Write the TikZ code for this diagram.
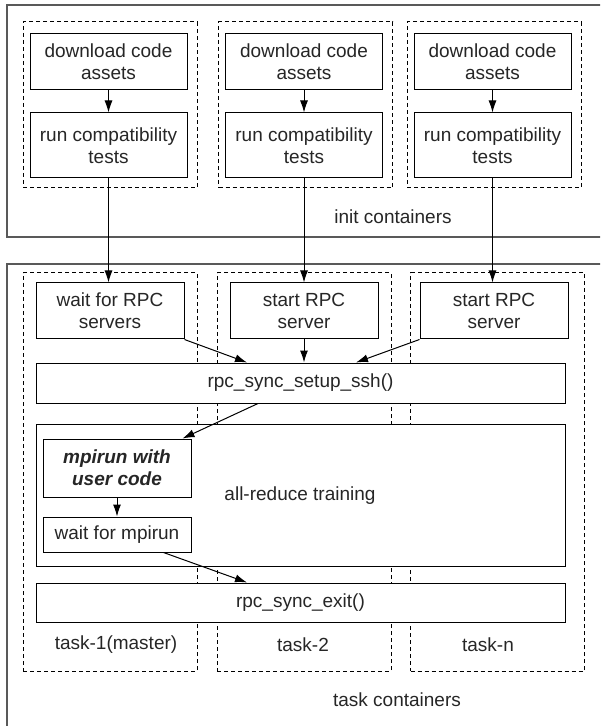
\documentclass[tikz,border=0pt]{standalone}
\usepackage{fontspec}
\setmainfont{Liberation Sans}
\usetikzlibrary{arrows.meta}

\begin{document}
\begin{tikzpicture}[x=0.5pt, y=-0.5pt, line width=0.5pt,
  every node/.style={font=\fontsize{9.5}{11}\selectfont, text=black!85},
  box/.style={draw, fill=white, align=center, inner sep=0pt, minimum width=78.5pt},
  col/.style={draw, dash pattern=on 2pt off 1.5pt, inner sep=0pt, minimum width=87pt},
  outer/.style={draw=black!65, line width=0.75pt},
  arr/.style={-{Latex[length=6pt,width=4pt]}}]
\useasboundingbox (0,0) rectangle (600,726);
\clip (0,0) rectangle (600,726);

\draw[outer] (7,5) rectangle (620,237);
\draw[outer] (7,264) rectangle (620,760);

\node[col, minimum height=83pt] (icol1) at (110,105) {};
\node[col, minimum height=83pt] (icol2) at (305.5,105) {};
\node[col, minimum height=83pt] (icol3) at (494,105) {};

\node[box, minimum height=28pt] (dl1) at (108.5,62) {download code\\assets};
\node[box, minimum height=32.5pt] (rt1) at (108.5,145.5) {run compatibility\\tests};
\node[box, minimum height=28pt] (dl2) at (304,62) {download code\\assets};
\node[box, minimum height=32.5pt] (rt2) at (304,145.5) {run compatibility\\tests};
\node[box, minimum height=28pt] (dl3) at (492.5,62) {download code\\assets};
\node[box, minimum height=32.5pt] (rt3) at (492.5,145.5) {run compatibility\\tests};
\node (init) at (393,217) {init containers};

\node[col, minimum height=199pt] (tcol1) at (110,472) {};
\node[col, minimum height=199pt] (tcol2) at (304,472) {};
\node[col, minimum height=199pt] (tcol3) at (497.5,472) {};

\node[box, minimum width=74pt, minimum height=28pt] (wait) at (110,311) {wait for RPC\\servers};
\node[box, minimum width=74pt, minimum height=28pt] (start2) at (304,311) {start RPC\\server};
\node[box, minimum width=74pt, minimum height=28pt] (start3) at (494,311) {start RPC\\server};
\node[box, minimum width=264.5pt, minimum height=20pt] (setup) at (300.5,383) {rpc\_sync\_setup\_ssh()};
\node[box, minimum width=264.5pt, minimum height=71pt] (allred) at (300.5,495) {};
\node (train) at (300,496) {all-reduce training};
\node[box, minimum width=74pt, minimum height=29pt,
  font=\fontsize{9.5}{11}\selectfont\bfseries\itshape] (mpirun) at (117,468) {mpirun with\\user code};
\node[box, minimum width=74pt, minimum height=17.5pt] (waitmpi) at (117,534.5) {wait for mpirun};
\node[box, minimum width=264.5pt, minimum height=19.5pt] (exit) at (300.5,602.5) {rpc\_sync\_exit()};
\node (t1) at (116,645) {task-1(master)};
\node (t2) at (303,645) {task-2};
\node (tn) at (488,645) {task-n};
\node (task) at (397,700) {task containers};

\draw[arr] (dl1) -- (rt1);
\draw[arr] (dl2) -- (rt2);
\draw[arr] (dl3) -- (rt3);
\draw[arr] (rt1.south) -- (rt1.south |- wait.north);
\draw[arr] (rt2) -- (start2);
\draw[arr] (rt3.south) -- (rt3.south |- start3.north);
\draw[arr] (wait.south east) -- ([xshift=-26.75pt]setup.north);
\draw[arr] (start2) -- (start2 |- setup.north);
\draw[arr] (start3.south west) -- ([xshift=27.75pt]setup.north);
\draw[arr] ([xshift=-21.25pt]setup.south) -- ([xshift=-4.5pt]mpirun.north east);
\draw[arr] (mpirun) -- (waitmpi);
\draw[arr] ([xshift=-14pt]waitmpi.south east) -- ([xshift=-26.75pt]exit.north);
\end{tikzpicture}
\end{document}
